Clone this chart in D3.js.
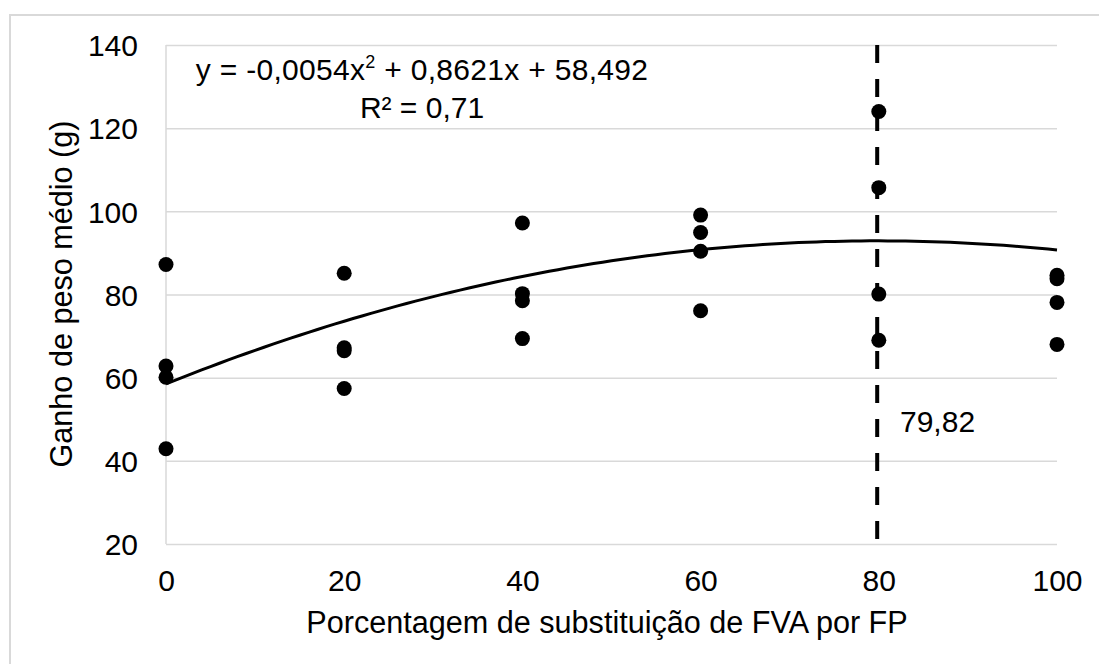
<!DOCTYPE html>
<html>
<head>
<meta charset="utf-8">
<script src="https://cdn.jsdelivr.net/npm/d3@7"></script>
<style>
	body { margin: 0; background: #fff; }
	svg { display: block; font-family: "Liberation Sans", Arial, sans-serif; }
</style>
</head>
<body>
<div id="container-chart"></div>
<script>
var chart = chart || {};

// Scatter of weight gain per substitution level, with the fitted quadratic
// and the dashed line at the point of maximum gain.

//// DATA ///////////////////////////////////////////////////////////////////////

var levels = [0, 20, 40, 60, 80, 100];
var gain_0 = [87.2, 62.8, 60.1, 42.9];
var gain_20 = [85.1, 67.2, 66.5, 57.4];
var gain_40 = [97.2, 80.2, 78.5, 69.4];
var gain_60 = [99.1, 94.9, 90.4, 76.1];
var gain_80 = [124.0, 105.7, 80.1, 69.0];
var gain_100 = [84.6, 83.8, 78.1, 68.0];

var fit_coef = [58.492, 0.8621, -0.0054];
var optimum = 79.82;

var y_ticks = [20, 40, 60, 80, 100, 120, 140];
var x_ticks = [0, 20, 40, 60, 80, 100];

var equation_text = "y = -0,0054x";
var equation_rest = " + 0,8621x + 58,492";
var r2_text = "R² = 0,71";
var optimum_text = "79,82";
var x_title = "Porcentagem de substituição de FVA por FP";
var y_title = "Ganho de peso médio (g)";


//// SETTINGS ///////////////////////////////////////////////////////////////////

chart.width = 1099;
chart.height = 664;
chart.left = 166;
chart.right = 1057;
chart.top = 45;
chart.bottom = 544;
chart.font = 30;
chart.grid = "#d9d9d9";

var groups = [gain_0, gain_20, gain_40, gain_60, gain_80, gain_100];
var points = [];
groups.forEach(function(g, i) {
	g.forEach(function(v) { points.push({x: levels[i], y: v}); });
});

var x = d3.scaleLinear().domain([0, 100]).range([chart.left, chart.right]);
var y = d3.scaleLinear().domain([20, 140]).range([chart.bottom, chart.top]);


//// UI SETUP ///////////////////////////////////////////////////////////////////

var svg = d3.select("#container-chart").append("svg")
		.attr("width", chart.width)
		.attr("height", chart.height);

// outer chart border, runs off the right and bottom edge
svg.append("rect")
		.attr("x", 10)
		.attr("y", 15)
		.attr("width", 1100)
		.attr("height", 700)
		.attr("fill", "#fff")
		.attr("stroke", chart.grid)
		.attr("stroke-width", 2);

// horizontal gridlines + y labels
var y_axis = svg.append("g")
		.attr("transform", "translate(" + chart.left + ",0)")
		.call(d3.axisLeft(y).tickValues(y_ticks).tickSize(-(chart.right - chart.left)).tickPadding(28));
y_axis.select(".domain").remove();
y_axis.selectAll(".tick line")
		.attr("stroke", chart.grid)
		.attr("stroke-width", 1.5);
y_axis.selectAll(".tick text")
		.attr("font-size", chart.font)
		.attr("font-family", "Liberation Sans, Arial, sans-serif")
		.attr("fill", "#000")
		.attr("dy", "0.36em");

// x labels
var x_axis = svg.append("g")
		.attr("transform", "translate(0," + chart.bottom + ")")
		.call(d3.axisBottom(x).tickValues(x_ticks).tickSize(0).tickPadding(26));
x_axis.select(".domain").remove();
x_axis.selectAll(".tick text")
		.attr("font-size", chart.font)
		.attr("font-family", "Liberation Sans, Arial, sans-serif")
		.attr("fill", "#000");

// y axis line
svg.append("line")
		.attr("x1", x(0)).attr("x2", x(0))
		.attr("y1", y(140)).attr("y2", y(20))
		.attr("stroke", chart.grid)
		.attr("stroke-width", 1.5);

// fitted curve
var curve = d3.range(0, 100.5, 1).map(function(v) {
	return [v, fit_coef[0] + fit_coef[1] * v + fit_coef[2] * v * v];
});
svg.append("path")
		.datum(curve)
		.attr("fill", "none")
		.attr("stroke", "#000")
		.attr("stroke-width", 3)
		.attr("d", d3.line().x(function(d) { return x(d[0]); }).y(function(d) { return y(d[1]); }));

// optimum
svg.append("line")
		.attr("x1", x(optimum)).attr("x2", x(optimum))
		.attr("y1", y(140)).attr("y2", y(20))
		.attr("stroke", "#000")
		.attr("stroke-width", 4)
		.attr("stroke-dasharray", "18,16");

// points
svg.append("g").selectAll("circle")
		.data(points)
	.enter().append("circle")
		.attr("cx", function(d) { return x(d.x); })
		.attr("cy", function(d) { return y(d.y); })
		.attr("r", 7.5)
		.attr("fill", "#000");

// equation
var eq = svg.append("text")
		.attr("x", 422)
		.attr("y", 80)
		.attr("text-anchor", "middle")
		.attr("font-size", 30)
		.attr("letter-spacing", 0.3);
eq.append("tspan").text(equation_text);
eq.append("tspan").attr("font-size", 18).attr("dy", -12).text("2");
eq.append("tspan").attr("dy", 12).text(equation_rest);

svg.append("text")
		.attr("x", 422)
		.attr("y", 118)
		.attr("text-anchor", "middle")
		.attr("font-size", 30)
		.text(r2_text);

svg.append("text")
		.attr("x", 900)
		.attr("y", 432)
		.attr("font-size", chart.font)
		.text(optimum_text);

// axis titles
svg.append("text")
		.attr("x", 607)
		.attr("y", 633)
		.attr("text-anchor", "middle")
		.attr("font-size", 30.6)
		.text(x_title);

svg.append("text")
		.attr("transform", "translate(72,294) rotate(-90)")
		.attr("text-anchor", "middle")
		.attr("font-size", 30.6)
		.text(y_title);
</script>
</body>
</html>
